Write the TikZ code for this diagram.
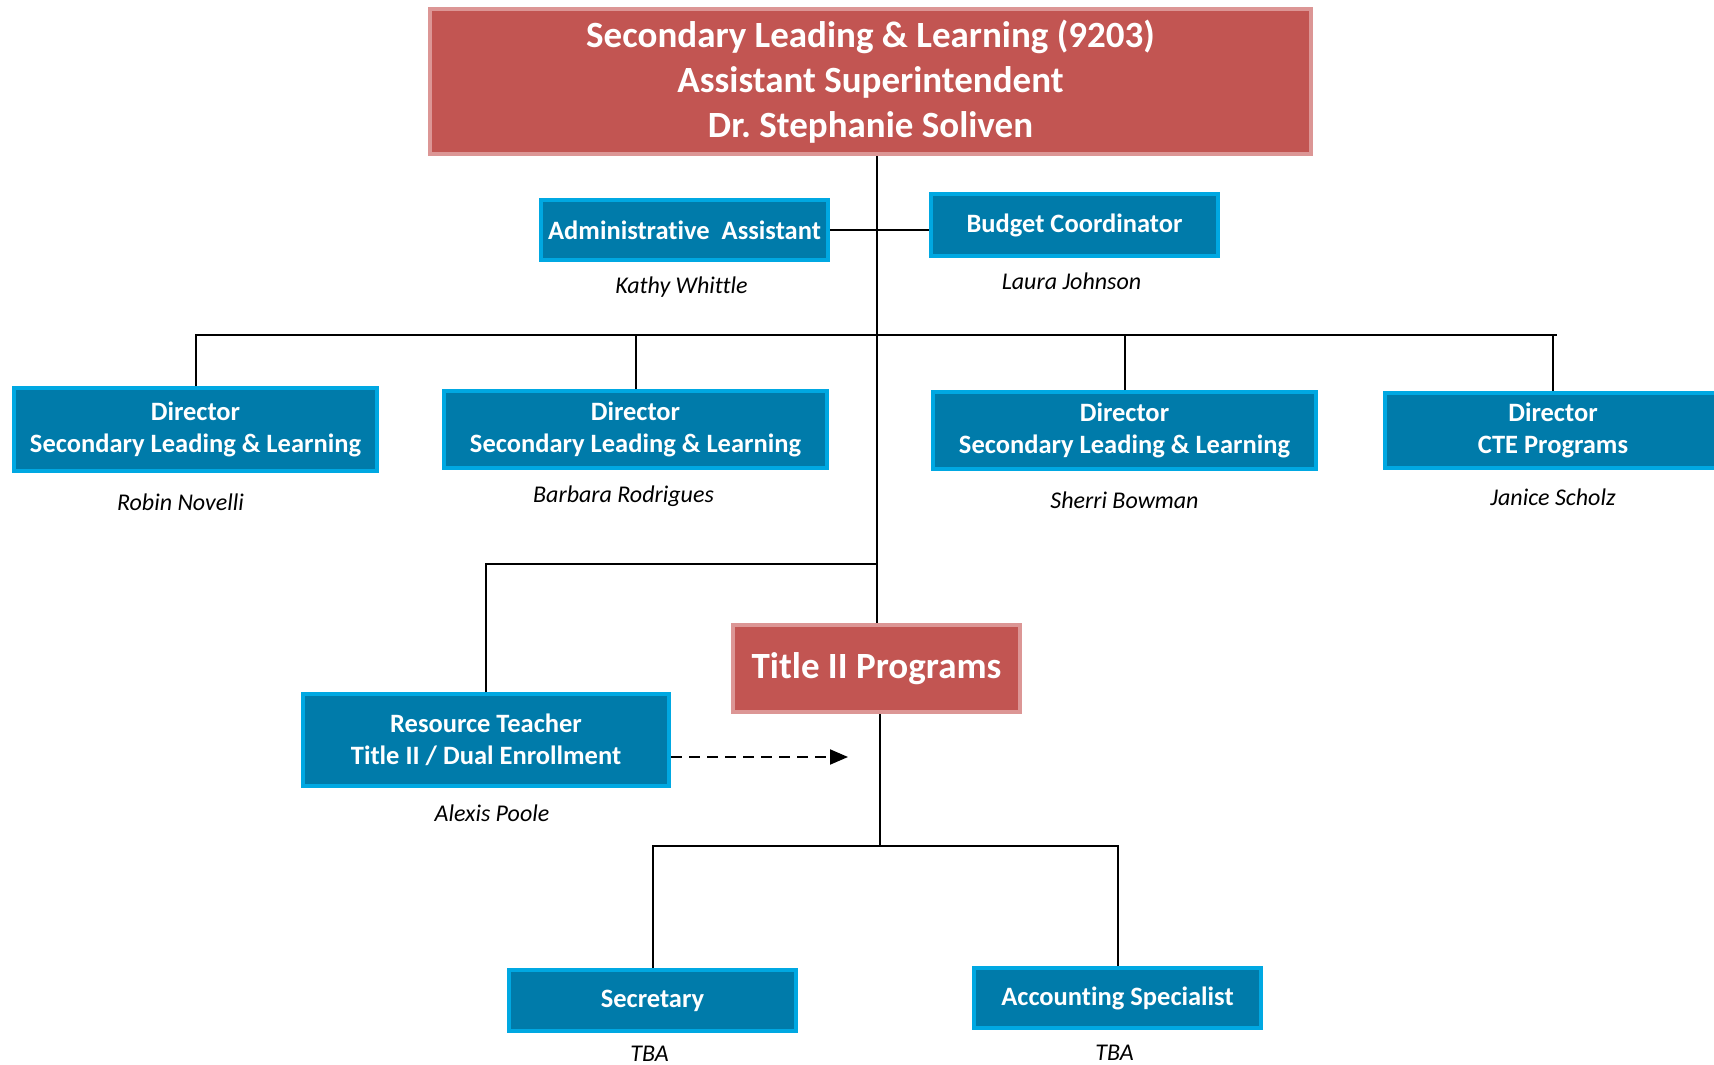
\documentclass[tikz,border=0pt]{standalone}
\usepackage{fontspec}
\setmainfont{Carlito}[Ligatures=NoCommon]
\usepackage{tikz}
\usetikzlibrary{arrows.meta,positioning}
\definecolor{deepblue}{HTML}{007BAA}
\definecolor{brightblue}{HTML}{00A8E2}
\definecolor{brick}{HTML}{C25552}
\definecolor{rose}{HTML}{DC9695}
\frenchspacing
\tikzset{
  link/.style={draw=black,line width=2pt},
  dashlink/.style={link,dash pattern=on 11pt off 7pt,-{Triangle[length=18pt,width=15pt]}},
  bluebox/.style={draw=brightblue,fill=deepblue,line width=4pt,align=center,text=white,
    inner sep=2pt,minimum width=287pt,font=\fontsize{26.5}{32}\selectfont\bfseries},
  redbox/.style={bluebox,draw=rose,fill=brick,font=\fontsize{37}{45}\selectfont\bfseries},
  person/.style={inner sep=0pt,text height=17pt,text depth=5pt,
    font=\fontsize{24}{29}\selectfont\itshape}
}
\begin{document}
\begin{tikzpicture}[x=1pt,y=-1pt]
  \useasboundingbox (0,0) rectangle (1714,1065);
  % boxes
  \node[redbox,minimum width=881pt,minimum height=145pt] (top) at (870.5,81.5)
    {Secondary Leading \& Learning (9203)\\Assistant Superintendent\\Dr. Stephanie Soliven};
  \node[bluebox,minimum height=60pt] (admin) at (684.5,230) {Administrative\ \ Assistant};
  \node[bluebox,minimum height=62pt] (budget) at (1074.5,225) {Budget Coordinator};
  \node[bluebox,minimum width=363pt,minimum height=83pt] (dirA) at (195.5,429.5)
    {Director\\Secondary Leading \& Learning};
  \node[bluebox,minimum width=383pt,minimum height=77pt] (dirB) at (635.5,429.5)
    {Director\\Secondary Leading \& Learning};
  \node[bluebox,minimum width=383pt,minimum height=77pt] (dirC) at (1124.5,430.5)
    {Director\\Secondary Leading \& Learning};
  \node[bluebox,minimum width=336pt,minimum height=75pt] (dirD) at (1553,430.5)
    {Director\\CTE Programs};
  \node[redbox,minimum height=87pt] (title) at (876.5,668.5) {Title II Programs};
  \node[bluebox,minimum width=366pt,minimum height=92pt] (res) at (486,740)
    {Resource Teacher\\Title II / Dual Enrollment};
  \node[bluebox,minimum height=61pt] (sec) at (652.5,1000.5) {Secretary};
  \node[bluebox,minimum height=60pt] (acct) at (1117.5,998) {Accounting Specialist};
  % names
  \node[person,below=14pt of admin,xshift=-3pt] (nAdmin) {Kathy Whittle};
  \node[person,below=14pt of budget,xshift=-3pt] (nBudget) {Laura Johnson};
  \node[person,below=20pt of dirA,xshift=-15pt] (nA) {Robin Novelli};
  \node[person,below=15pt of dirB,xshift=-12pt] (nB) {Barbara Rodrigues};
  \node[person,below=20pt of dirC] (nC) {Sherri Bowman};
  \node[person,below=18pt of dirD] (nD) {Janice Scholz};
  \node[person,below=16pt of res,xshift=6pt] (nRes) {Alexis Poole};
  \node[person,below=11pt of sec,xshift=-3pt] (nSec) {TBA};
  \node[person,below=13pt of acct,xshift=-3pt] (nAcct) {TBA};
  % connectors
  \coordinate (busA) at (0,334.5);
  \coordinate (busB) at (0,564);
  \coordinate (busC) at (0,846);
  \coordinate (dashend) at (848,757);
  \draw[link] (title.north) -- (title.north |- top.south);
  \draw[link] (admin.east) -- (admin.east -| budget.west);
  \draw[link] (dirA.north) -- (dirA.north |- busA) -- ([xshift=4pt]dirD.north |- busA);
  \foreach \d in {dirB,dirC,dirD} \draw[link] (\d.north) -- (\d.north |- busA);
  \draw[link] (res.north) -- (res.north |- busB) -- (title.north |- busB);
  \draw[dashlink] (res.east |- dashend) -- (dashend);
  \draw[link] ([xshift=3pt]title.south) -- ([xshift=3pt]title.south |- busC);
  \draw[link] (sec.north) -- (sec.north |- busC) -- (acct.north |- busC) -- (acct.north);
\end{tikzpicture}
\end{document}
